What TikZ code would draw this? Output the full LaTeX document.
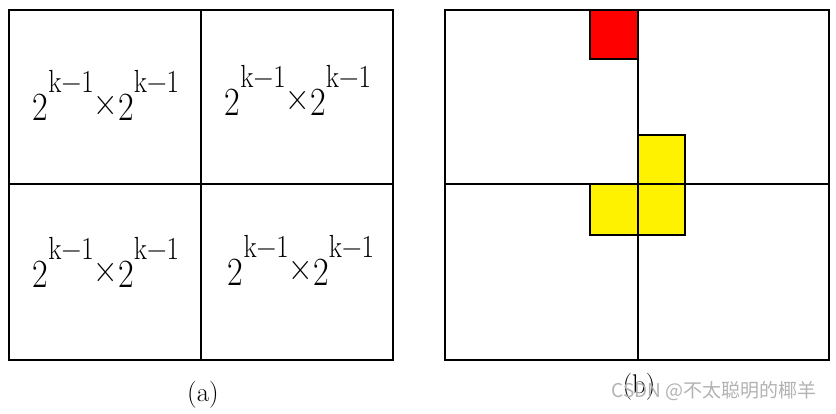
\documentclass[tikz,border=0pt]{standalone}
\usepackage{fontspec}
\newfontfamily\cjk{Noto Sans CJK SC}
\newcommand{\kexp}{\raisebox{28pt}{\fontsize{32}{32}\selectfont k−1}}
\newcommand{\blocksize}{\scalebox{0.85}[1]{2\kexp\raisebox{5pt}{×}2\kexp}}
\begin{document}
\begin{tikzpicture}[x=1pt,y=-1pt,line width=1.4pt,
    cell/.style={font=\fontsize{40}{44}\selectfont,inner sep=0pt,anchor=base},
    caption/.style={font=\fontsize{27}{30}\selectfont,inner sep=0pt,anchor=base}]
  \useasboundingbox (0,0) rectangle (836,413);
  % (a) 四等分的棋盘
  \draw (9,10) rectangle (393,360);
  \draw (201,10) -- (201,360);
  \draw (9,184) -- (393,184);
  \node[cell] (tl) at (106,120) {\blocksize};
  \node[cell] (tr) at (298,115) {\blocksize};
  \node[cell] (bl) at (106,287) {\blocksize};
  \node[cell] (br) at (301,285) {\blocksize};
  \node[caption] (la) at (203,401) {(a)};
  % (b) 特殊方格和L型骨牌
  \filldraw[fill=red] (590,10) rectangle (638,59);
  \filldraw[fill=yellow] (638,135) rectangle (685,184);
  \filldraw[fill=yellow] (590,184) rectangle (685,235);
  \draw (445,10) rectangle (829,360);
  \draw (638,10) -- (638,360);
  \draw (445,184) -- (829,184);
  \node[caption] (lb) at (639,393) {(b)};
  % 水印
  \node[font=\cjk\fontsize{19}{21}\selectfont,text=gray!60,inner sep=0pt] (wm) at (714,391) {CSDN @不太聪明的椰羊};
\end{tikzpicture}
\end{document}
